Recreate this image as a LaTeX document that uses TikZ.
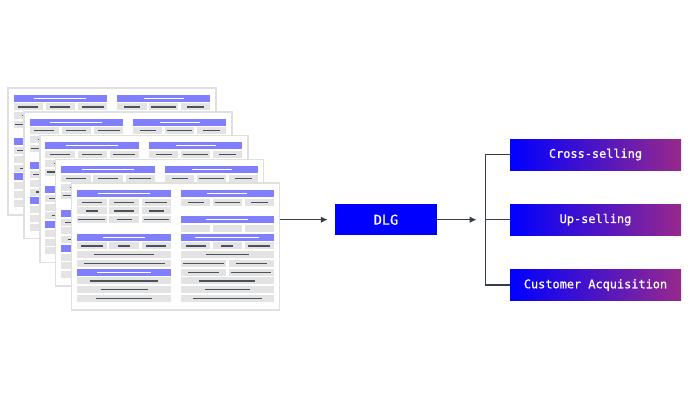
\documentclass[tikz,border=0pt]{standalone}
\usepackage{fontspec}
\newfontfamily\monofnt[FakeBold=0.8]{DejaVu Sans Mono}
\usetikzlibrary{arrows.meta}
\definecolor{hdrpurple}{RGB}{128,128,255}
\definecolor{cellgray}{RGB}{227,227,227}
\definecolor{pageborder}{RGB}{224,224,224}
\definecolor{txtdark}{RGB}{74,82,90}
\definecolor{conncol}{RGB}{52,62,72}
\definecolor{dlgblue}{RGB}{0,0,255}
\definecolor{endpurple}{RGB}{152,40,140}
\tikzset{
  pagebox/.style={draw=pageborder, line width=1.5pt, fill=white, anchor=north west,
    minimum width=208pt, minimum height=126.8pt, inner sep=0pt, outer sep=0pt},
  txtline/.style={draw=txtdark, line width=1.2pt},
  whiteline/.style={draw=white, line width=1pt},
  conn/.style={draw=conncol, line width=1.4pt},
  arr/.style={conn, -{Latex[length=7pt,width=6.5pt]}},
  dlgbox/.style={fill=dlgblue, text=white, minimum width=102pt, minimum height=31pt,
    inner sep=0pt, font=\monofnt\fontsize{13.5}{15}\selectfont},
  outbox/.style={left color=dlgblue, right color=endpurple, text=white,
    minimum width=171pt, minimum height=31pt, inner sep=0pt,
    font=\monofnt\fontsize{11.9}{14}\selectfont}
}
% cell: x, y, w, line length
\newcommand\pcell[4]{%
  \fill[cellgray] (#1,#2) rectangle ++(#3,7);
  \draw[txtline] ({#1+#3/2-#4/2},{#2+3.5}) -- ++(#4,0);
}
\newcommand\pempty[3]{\fill[cellgray] (#1,#2) rectangle ++(#3,7);}
\newcommand\phead[4]{%
  \fill[hdrpurple] (#1,#2) rectangle ++(#3,7);
  \draw[whiteline] ({#1+#3/2-#4/2},{#2+3.5}) -- ++(#4,0);
}
\newcommand\lthree[4]{\pcell{5.6}{#1}{29.4}{#2}\pcell{37.75}{#1}{29.4}{#3}\pcell{69.9}{#1}{29.4}{#4}}
\newcommand\rthree[4]{\pcell{109.3}{#1}{29.2}{#2}\pcell{141.2}{#1}{29.2}{#3}\pcell{173.1}{#1}{29.2}{#4}}
\newcommand\rthreeempty[1]{\pempty{109.3}{#1}{29.2}\pempty{141.2}{#1}{29.2}\pempty{173.1}{#1}{29.2}}
\newcommand\lfull[2]{\pcell{5.6}{#1}{93.7}{#2}}
\newcommand\rfull[2]{\pcell{109.3}{#1}{93}{#2}}
\newcommand\rtwo[3]{\pcell{109.3}{#1}{45}{#2}\pcell{157.3}{#1}{45}{#3}}
\newcommand\lhead[2]{\phead{5.6}{#1}{93.7}{#2}}
\newcommand\rhead[2]{\phead{109.3}{#1}{93}{#2}}
\newcommand\pgcontent{%
  % left column
  \lhead{6.7}{52}
  \lthree{15.45}{20}{20}{22}
  \lthree{24.2}{12}{20}{15}
  \lthree{32.95}{27}{15}{25}
  \lhead{50.45}{42}
  \lthree{59.2}{22}{12}{20}
  \lfull{67.95}{60}
  \lfull{76.7}{81}
  \lhead{85.45}{54}
  \lfull{94.2}{68}
  \lfull{102.95}{47}
  \lfull{111.7}{56}
  % right column
  \rhead{6.7}{40}
  \rthree{15.45}{16}{25}{17}
  \rhead{32.95}{42}
  \rthreeempty{41.7}
  \rhead{50.45}{64}
  \rthree{59.2}{20}{12}{22}
  \rfull{67.95}{43}
  \rtwo{76.7}{41}{31}
  \rtwo{85.45}{31}{40}
  \rfull{94.2}{56}
  \rfull{102.95}{45}
  \rfull{111.7}{69}
}
\begin{document}
\begin{tikzpicture}[x=1pt,y=-1pt]
\useasboundingbox (0,0) rectangle (690,400);
\foreach \i/\px/\py in {1/8/88, 2/23.9/111.8, 3/39.8/135.6, 4/55.7/159.4, 5/71.6/183.2}{
  \node[pagebox] (p\i) at (\px,\py) {};
  \begin{scope}[shift={(p\i.north west)}]
    \pgcontent
  \end{scope}
}
\node[dlgbox] (dlg) at (386,219.7) {DLG};
\node[outbox] (o1) at (595.5,154.5) {Cross-selling};
\node[outbox] (o2) at (595.5,219.7) {Up-selling};
\node[outbox] (o3) at (595.5,285) {Customer Acquisition};
\coordinate (bx) at (485.7,219.7);
\draw[arr, shorten >=7pt] (p5.east |- dlg.west) -- (dlg.west);
\draw[arr, shorten >=9pt] (dlg.east) -- (bx);
\draw[conn] (o1.west) -- (o1.west -| bx) -- (o3.west -| bx) -- (o3.west);
\draw[conn] (o2.west -| bx) -- (o2.west);
\end{tikzpicture}
\end{document}
